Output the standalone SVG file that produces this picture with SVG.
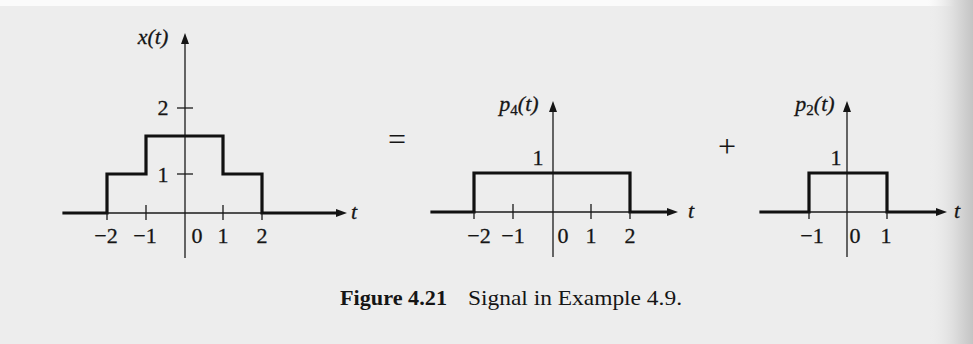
<svg xmlns="http://www.w3.org/2000/svg" width="973" height="344" viewBox="0 0 973 344">
  <defs>
    <linearGradient id="edge" x1="0" y1="0" x2="1" y2="0">
      <stop offset="0" stop-color="#ededed" stop-opacity="0"/>
      <stop offset="0.6" stop-color="#dcdcdc" stop-opacity="1"/>
      <stop offset="1" stop-color="#c4c4c4" stop-opacity="1"/>
    </linearGradient>
    <marker id="arr" markerUnits="userSpaceOnUse" markerWidth="12" markerHeight="9" refX="2" refY="4" orient="auto">
      <path d="M0,0 L11,4 L0,8 z" fill="#151515"/>
    </marker>
    <style>
      .ax { stroke: #1a1a1a; stroke-width: 1.3; fill: none; }
      .sig { stroke: #111; stroke-width: 3.2; fill: none; stroke-linejoin: miter; stroke-linecap: square; }
      .tk { stroke: #1a1a1a; stroke-width: 1.3; }
      .num { font-family: "Liberation Serif", "Times New Roman", serif; font-size: 22px; fill: #151515; stroke: #151515; stroke-width: 0.3; text-anchor: middle; }
      .lab { font-family: "Liberation Serif", "Times New Roman", serif; font-size: 22px; font-style: italic; fill: #151515; stroke: #151515; stroke-width: 0.3; text-anchor: middle; }
      .sub { font-style: normal; font-size: 15px; }
      .op { font-family: "Liberation Serif", "Times New Roman", serif; font-size: 32px; fill: #151515; text-anchor: middle; }
      .cap { font-family: "Liberation Serif", "Times New Roman", serif; font-size: 22px; fill: #151515; }
    </style>
  </defs>

  <rect x="0" y="0" width="973" height="344" fill="#ededed"/>
  <rect x="0" y="0" width="973" height="6" fill="#fbfbfb"/>
  <rect x="928" y="0" width="45" height="344" fill="url(#edge)"/>

  <!-- x(t) -->
  <g id="plot-x">
    <line class="ax" x1="185" y1="258" x2="185" y2="42" marker-end="url(#arr)"/>
    <line class="ax" x1="63" y1="213" x2="338" y2="213" marker-end="url(#arr)"/>
    <path class="sig" d="M64,213 H107 V174 H146 V136 H223 V174 H262 V213 H337"/>
    <line class="tk" x1="177" y1="108" x2="193" y2="108"/>
    <line class="tk" x1="177" y1="174" x2="193" y2="174"/>
    <line class="tk" x1="146" y1="205" x2="146" y2="220"/>
    <line class="tk" x1="223" y1="205" x2="223" y2="220"/>
    <line class="tk" x1="107" y1="213" x2="107" y2="220"/>
    <line class="tk" x1="262" y1="213" x2="262" y2="220"/>
    <text class="lab" x="153" y="44">x(t)</text>
    <text class="lab" x="354" y="219">t</text>
    <text class="num" x="163" y="115">2</text>
    <text class="num" x="163" y="182">1</text>
    <text class="num" x="106" y="243">−2</text>
    <text class="num" x="145" y="243">−1</text>
    <text class="num" x="197" y="243">0</text>
    <text class="num" x="223" y="243">1</text>
    <text class="num" x="262" y="243">2</text>
  </g>

  <text id="equals" class="op" x="397" y="150">=</text>

  <!-- p4(t) -->
  <g id="plot-p4">
    <line class="ax" x1="553" y1="257" x2="553" y2="110" marker-end="url(#arr)"/>
    <line class="ax" x1="431" y1="212" x2="669" y2="212" marker-end="url(#arr)"/>
    <path class="sig" d="M432,212 H474 V173 H630 V212 H668"/>
    <line class="tk" x1="513" y1="204" x2="513" y2="219"/>
    <line class="tk" x1="591" y1="204" x2="591" y2="219"/>
    <line class="tk" x1="474" y1="212" x2="474" y2="219"/>
    <line class="tk" x1="630" y1="212" x2="630" y2="219"/>
    <text class="lab" x="519" y="111">p<tspan class="sub" dy="4">4</tspan><tspan dy="-4">(t)</tspan></text>
    <text class="lab" x="691" y="218">t</text>
    <text class="num" x="538" y="165">1</text>
    <text class="num" x="479" y="243">−2</text>
    <text class="num" x="513" y="243">−1</text>
    <text class="num" x="563" y="243">0</text>
    <text class="num" x="591" y="243">1</text>
    <text class="num" x="630" y="243">2</text>
  </g>

  <text id="plus" class="op" x="727" y="157">+</text>

  <!-- p2(t) -->
  <g id="plot-p2">
    <line class="ax" x1="847" y1="257" x2="847" y2="110" marker-end="url(#arr)"/>
    <line class="ax" x1="760" y1="212" x2="938" y2="212" marker-end="url(#arr)"/>
    <path class="sig" d="M761,212 H809 V173 H887 V212 H937"/>
    <line class="tk" x1="809" y1="212" x2="809" y2="219"/>
    <line class="tk" x1="887" y1="212" x2="887" y2="219"/>
    <text class="lab" x="815" y="111">p<tspan class="sub" dy="4">2</tspan><tspan dy="-4">(t)</tspan></text>
    <text class="lab" x="957" y="218">t</text>
    <text class="num" x="836" y="165">1</text>
    <text class="num" x="812" y="243">−1</text>
    <text class="num" x="855" y="243">0</text>
    <text class="num" x="886" y="243">1</text>
  </g>

  <g id="caption">
    <text class="cap" x="340" y="305" font-weight="bold" textLength="107" lengthAdjust="spacingAndGlyphs">Figure 4.21</text>
    <text class="cap" x="468" y="305" textLength="214" lengthAdjust="spacingAndGlyphs">Signal in Example 4.9.</text>
  </g>
</svg>
